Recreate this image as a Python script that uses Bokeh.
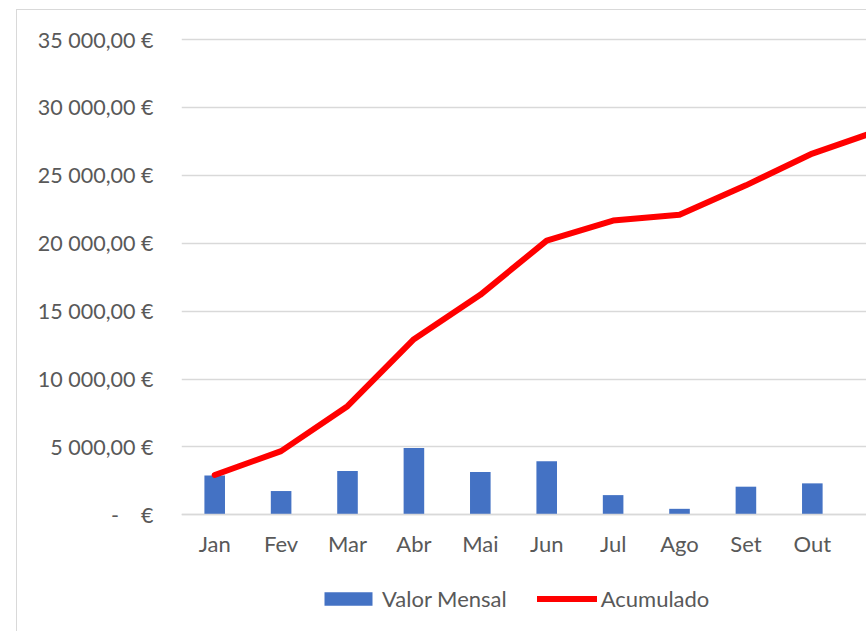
from bokeh.plotting import figure
from bokeh.models import (ColumnDataSource, FixedTicker, Range1d, Legend, LegendItem)
from bokeh.embed import file_html
from bokeh.resources import INLINE

# ---- data ----
months = ["Jan", "Fev", "Mar", "Abr", "Mai", "Jun", "Jul", "Ago", "Set", "Out", "Nov"]
valor_mensal = [2900, 1750, 3220, 4920, 3150, 3940, 1450, 440, 2070, 2315, 1700]
acumulado = [2930, 4690, 8000, 12930, 16200, 20190, 21670, 22090, 24260, 26600, 28290]
y_ticks = [0, 5000, 10000, 15000, 20000, 25000, 30000, 35000]
y_tick_labels = ["-\u00a0\u00a0\u00a0\u00a0€", "5 000,00 €", "10 000,00 €", "15 000,00 €",
                 "20 000,00 €", "25 000,00 €", "30 000,00 €", "35 000,00 €"]

FONT = "Lato"
TXT = "#595959"
GRID = "#D9D9D9"

idx = list(range(len(months)))
src = ColumnDataSource(dict(x=idx, mensal=valor_mensal, acum=acumulado))

p = figure(width=850, height=622, output_backend="svg", toolbar_location=None,
           x_range=Range1d(-0.5, 9.831), y_range=Range1d(-8667, 35221),
           min_border_left=164, min_border_right=0, min_border_top=26,
           min_border_bottom=0, margin=(9, 0, 0, 16))
p.styles = {"border-left": "1px solid #D9D9D9", "border-top": "1px solid #D9D9D9"}
p.outline_line_color = None
p.background_fill_color = "white"
p.border_fill_color = "white"

bars = p.vbar(x="x", top="mensal", bottom=0, width=0.31, source=src,
              fill_color="#4472C4", line_color=None)
line = p.line(x="x", y="acum", source=src, line_color="#FF0000", line_width=6,
              line_join="round", line_cap="round")

# axes
p.xgrid.grid_line_color = None
p.ygrid.grid_line_color = GRID
p.ygrid.grid_line_width = 1.5
p.yaxis.ticker = FixedTicker(ticks=y_ticks)
p.yaxis.major_label_overrides = {t: l for t, l in zip(y_ticks, y_tick_labels)}
p.yaxis.axis_line_color = None
p.yaxis.major_tick_line_color = None
p.yaxis.minor_tick_line_color = None
p.yaxis.major_tick_out = 0
p.yaxis.major_label_standoff = 28

p.xaxis.fixed_location = 0
p.xaxis.ticker = FixedTicker(ticks=idx)
p.xaxis.major_label_overrides = {i: m for i, m in zip(idx, months)}
p.xaxis.axis_line_color = GRID
p.xaxis.axis_line_width = 1.5
p.xaxis.major_tick_line_color = None
p.xaxis.minor_tick_line_color = None
p.xaxis.major_tick_out = 0
p.xaxis.major_label_standoff = 15

for ax in (p.xaxis, p.yaxis):
    ax.major_label_text_font = FONT
    ax.major_label_text_font_size = "22px"
    ax.major_label_text_color = TXT
p.yaxis.major_label_text_font_size = "21.5px"

legend = Legend(items=[LegendItem(label="Valor Mensal", renderers=[bars]),
                       LegendItem(label="Acumulado", renderers=[line])],
                orientation="horizontal", location=(137, 20),
                glyph_width=60, glyph_height=17, label_standoff=4, spacing=30,
                padding=0, margin=0, border_line_color=None, background_fill_alpha=0,
                label_text_font=FONT, label_text_font_size="22px", label_text_color=TXT)
p.add_layout(legend, "center")

open("out.html", "w").write(file_html(p, INLINE))
